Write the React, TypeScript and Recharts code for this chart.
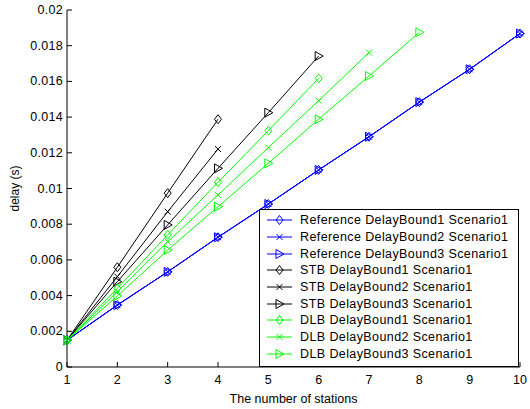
import { LineChart, Line, XAxis, YAxis, Legend } from 'recharts'

const stations = [1, 2, 3, 4, 5, 6, 7, 8, 9, 10]
const xTicks = [1, 2, 3, 4, 5, 6, 7, 8, 9, 10]
const yTicks = [0, 0.002, 0.004, 0.006, 0.008, 0.01, 0.012, 0.014, 0.016, 0.018, 0.02]

const refBound1 = [0.0015, 0.00347, 0.00533, 0.00727, 0.00913, 0.01104, 0.0129, 0.01484, 0.01668, 0.01868]
const refBound2 = [0.0015, 0.00347, 0.00533, 0.00727, 0.00913, 0.01104, 0.0129, 0.01484, 0.01668, 0.01868]
const refBound3 = [0.0015, 0.00347, 0.00533, 0.00727, 0.00913, 0.01104, 0.0129, 0.01484, 0.01668, 0.01868]
const stbBound1 = [0.0015, 0.00559, 0.00974, 0.01388]
const stbBound2 = [0.0015, 0.00506, 0.0087, 0.01221]
const stbBound3 = [0.0015, 0.00478, 0.00796, 0.01113, 0.01425, 0.01742]
const dlbBound1 = [0.0015, 0.00441, 0.0074, 0.01035, 0.01324, 0.01617]
const dlbBound2 = [0.0015, 0.00422, 0.00702, 0.00964, 0.01229, 0.01492, 0.01761]
const dlbBound3 = [0.0015, 0.00398, 0.00655, 0.00898, 0.01141, 0.01388, 0.0163, 0.01875]

type Shape = 'diamond' | 'cross' | 'triangle'

const series: { key: string; name: string; values: number[]; color: string; shape: Shape }[] = [
  { key: 'ref1', name: 'Reference DelayBound1 Scenario1', values: refBound1, color: '#0000ff', shape: 'diamond' },
  { key: 'ref2', name: 'Reference DelayBound2 Scenario1', values: refBound2, color: '#0000ff', shape: 'cross' },
  { key: 'ref3', name: 'Reference DelayBound3 Scenario1', values: refBound3, color: '#0000ff', shape: 'triangle' },
  { key: 'stb1', name: 'STB DelayBound1 Scenario1', values: stbBound1, color: '#000000', shape: 'diamond' },
  { key: 'stb2', name: 'STB DelayBound2 Scenario1', values: stbBound2, color: '#000000', shape: 'cross' },
  { key: 'stb3', name: 'STB DelayBound3 Scenario1', values: stbBound3, color: '#000000', shape: 'triangle' },
  { key: 'dlb1', name: 'DLB DelayBound1 Scenario1', values: dlbBound1, color: '#00ff00', shape: 'diamond' },
  { key: 'dlb2', name: 'DLB DelayBound2 Scenario1', values: dlbBound2, color: '#00ff00', shape: 'cross' },
  { key: 'dlb3', name: 'DLB DelayBound3 Scenario1', values: dlbBound3, color: '#00ff00', shape: 'triangle' },
]

const data = stations.map((x, i) => {
  const row: Record<string, number | undefined> = { x }
  series.forEach(s => { row[s.key] = s.values[i] })
  return row
})

const FONT = '"Liberation Sans", Arial, sans-serif'

function Marker({ cx, cy, color, shape }: { cx: number; cy: number; color: string; shape: Shape }) {
  if (shape === 'diamond') {
    return <path d={`M${cx},${cy - 4.5} L${cx + 3.5},${cy} L${cx},${cy + 4.5} L${cx - 3.5},${cy} Z`} fill="none" stroke={color} strokeWidth={1} />
  }
  if (shape === 'cross') {
    return <path d={`M${cx - 3},${cy - 3} L${cx + 3},${cy + 3} M${cx - 3},${cy + 3} L${cx + 3},${cy - 3}`} stroke={color} strokeWidth={1} />
  }
  return <path d={`M${cx - 3.5},${cy - 4.5} L${cx + 4.5},${cy} L${cx - 3.5},${cy + 4.5} Z`} fill="none" stroke={color} strokeWidth={1} />
}

const fmtY = (v: number) => String(+v.toFixed(3))

function BottomTick({ x, y, payload }: any) {
  return (
    <g>
      <line x1={x} y1={y} x2={x} y2={y - 5} stroke="#000" />
      <text x={x} y={y + 17} textAnchor="middle" fontSize={12.5} fontFamily={FONT} fill="#000">{payload.value}</text>
    </g>
  )
}

function TopTick({ x, y }: any) {
  return <line x1={x} y1={y} x2={x} y2={y + 5} stroke="#000" />
}

function LeftTick({ x, y, payload }: any) {
  return (
    <g>
      <line x1={x} y1={y} x2={x + 5} y2={y} stroke="#000" />
      <text x={x - 4} y={y + 4} textAnchor="end" fontSize={12.5} letterSpacing={0.3} fontFamily={FONT} fill="#000">{fmtY(payload.value)}</text>
    </g>
  )
}

function RightTick({ x, y }: any) {
  return <line x1={x} y1={y} x2={x - 5} y2={y} stroke="#000" />
}

function LegendBox() {
  return (
    <div style={{ border: '1px solid #000', background: '#fff', width: 258, height: 154, padding: '2px 0 0 0', boxSizing: 'content-box' }}>
      {series.map(s => (
        <div key={s.key} style={{ display: 'flex', alignItems: 'center', height: 16.7 }}>
          <svg width={40} height={14} style={{ flex: 'none' }}>
            <line x1={7} y1={7} x2={32} y2={7} stroke={s.color} />
            <Marker cx={19.5} cy={7} color={s.color} shape={s.shape} />
          </svg>
          <span style={{ fontFamily: FONT, fontSize: 12.5, letterSpacing: 0.4, color: '#000', whiteSpace: 'nowrap' }}>{s.name}</span>
        </div>
      ))}
    </div>
  )
}

export default function App() {
  return (
    <div style={{ position: 'absolute', left: 0, top: 0, width: 530, height: 409, background: '#fff' }}>
      <LineChart width={530} height={409} data={data} margin={{ top: 10, right: 10, bottom: 12, left: 7 }}>
        <XAxis
          xAxisId="b"
          dataKey="x"
          type="number"
          domain={[1, 10]}
          ticks={xTicks}
          height={30}
          tickSize={0}
          tickMargin={0}
          tick={<BottomTick />}
          axisLine={{ stroke: '#000' }}
          label={{ value: 'The number of stations', position: 'insideBottom', offset: -6, fontSize: 12.5, fontFamily: FONT, fill: '#000' }}
        />
        <XAxis
          xAxisId="t"
          orientation="top"
          dataKey="x"
          type="number"
          domain={[1, 10]}
          ticks={xTicks}
          height={0}
          tickSize={0}
          tickMargin={0}
          tick={<TopTick />}
          axisLine={{ stroke: '#000' }}
        />
        <YAxis
          yAxisId="l"
          type="number"
          domain={[0, 0.02]}
          ticks={yTicks}
          width={60}
          tickSize={0}
          tickMargin={0}
          tick={<LeftTick />}
          axisLine={{ stroke: '#000' }}
          label={{ value: 'delay (s)', angle: -90, position: 'insideLeft', offset: 8, fontSize: 12, fontFamily: FONT, fill: '#000', style: { textAnchor: 'middle' } }}
        />
        <YAxis
          yAxisId="r"
          orientation="right"
          type="number"
          domain={[0, 0.02]}
          ticks={yTicks}
          width={0}
          tickSize={0}
          tickMargin={0}
          tick={<RightTick />}
          axisLine={{ stroke: '#000' }}
        />
        <Legend
          layout="horizontal"
          verticalAlign="middle"
          align="center"
          content={<LegendBox />}
          wrapperStyle={{ left: 259, top: 209, width: 260, height: 157 }}
        />
        {series.map(s => (
          <Line
            key={s.key}
            xAxisId="b"
            yAxisId="l"
            type="linear"
            dataKey={s.key}
            name={s.name}
            stroke={s.color}
            strokeWidth={1}
            isAnimationActive={false}
            activeDot={false}
            dot={(p: any) => <Marker key={`${s.key}-${p.index}`} cx={p.cx} cy={p.cy} color={s.color} shape={s.shape} />}
          />
        ))}
      </LineChart>
    </div>
  )
}
